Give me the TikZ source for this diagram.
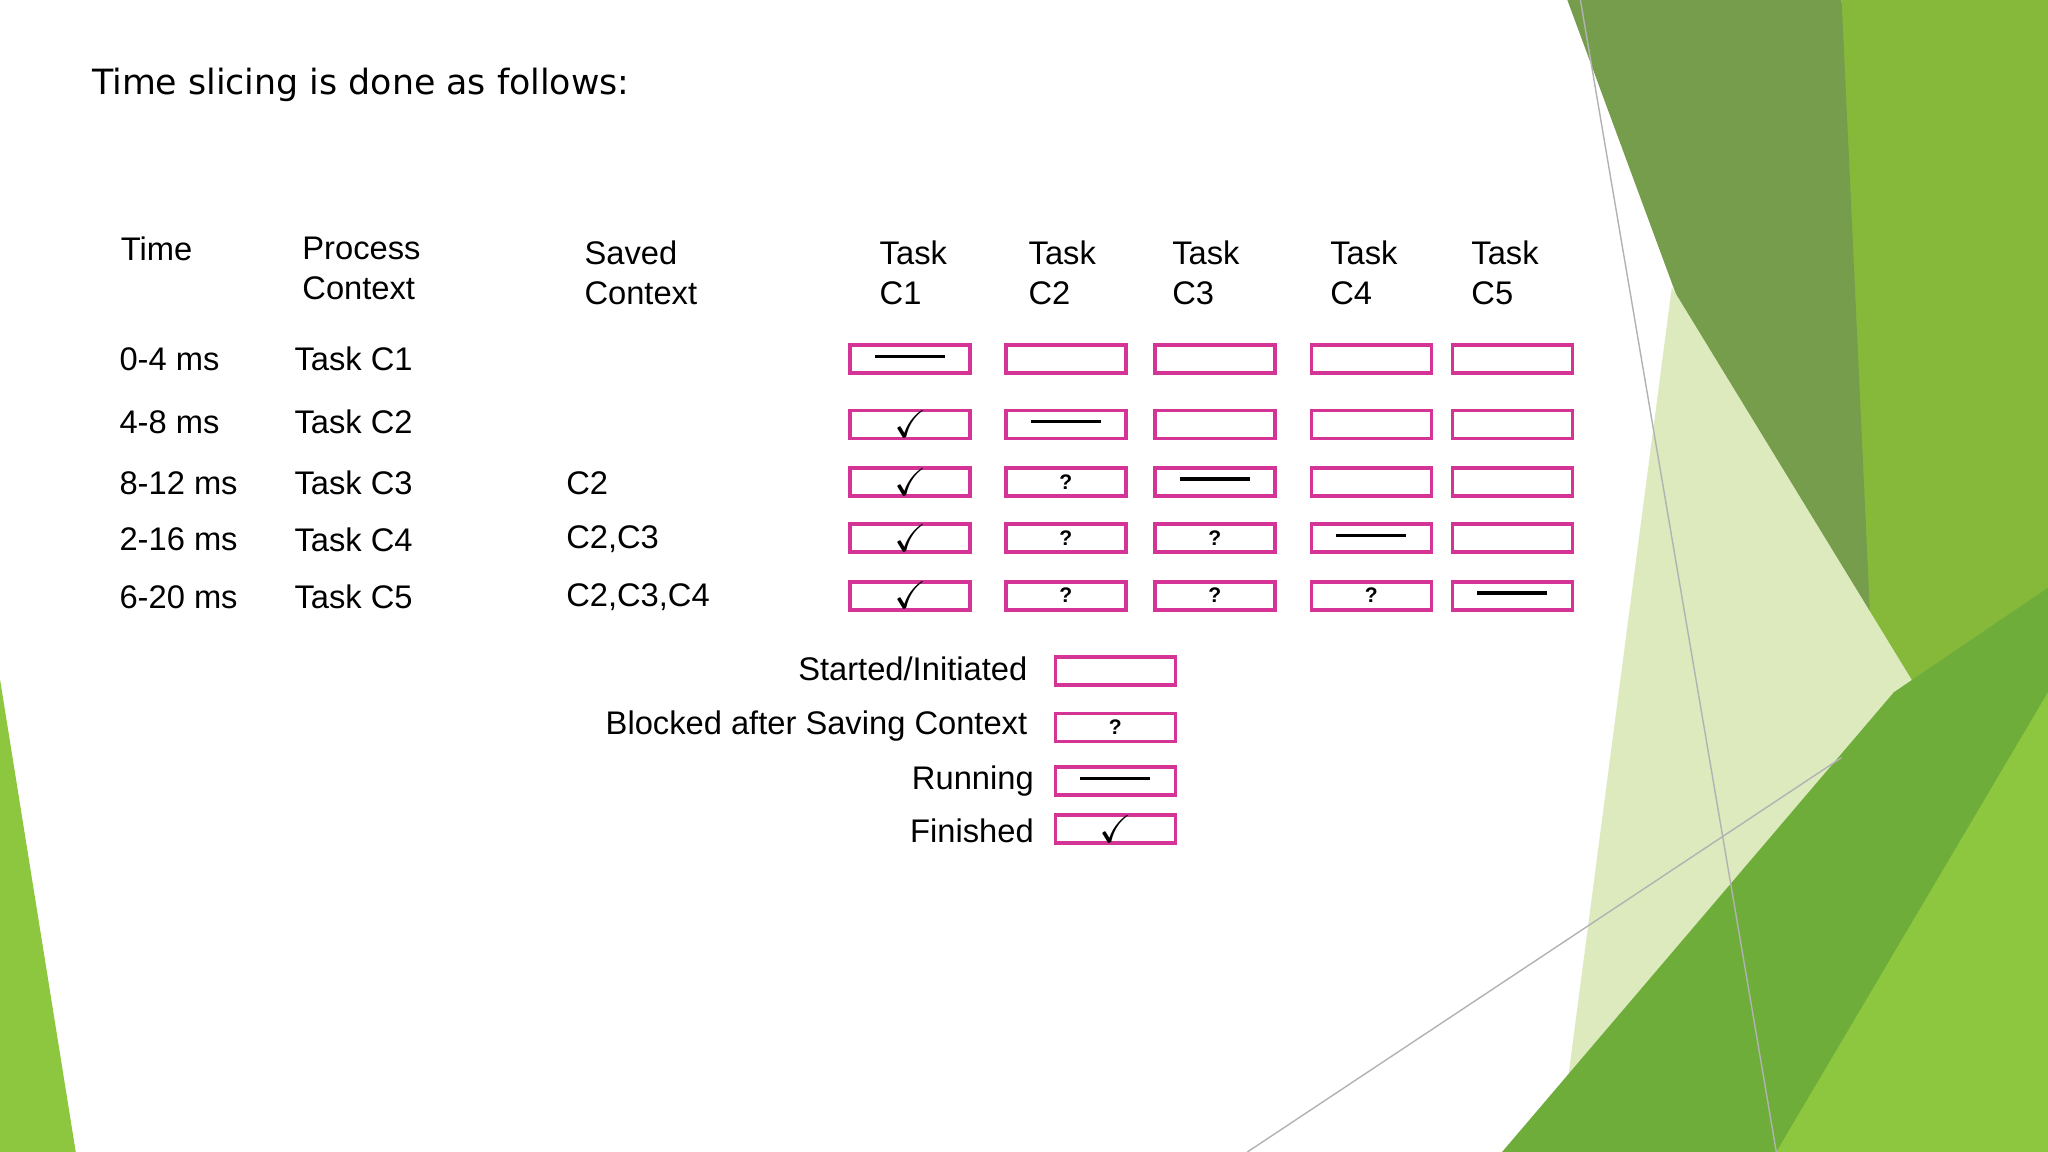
\documentclass[tikz,border=0pt]{standalone}
\usepackage{amssymb}
\usepackage{fontspec}
\setmainfont{Liberation Sans}
\newfontfamily\titlefont{DejaVu Sans}
\definecolor{bxc}{RGB}{212,52,150}
\begin{document}
\begin{tikzpicture}[x=0.01306cm,y=-0.01306cm,
 bx/.style={draw=bxc,line width=1.1pt,minimum width=1.2cm,minimum height=0.28cm,inner sep=0pt},
 tx/.style={anchor=west,font=\fontsize{9.3}{11}\selectfont,inner sep=0pt},
 hd/.style={anchor=north west,font=\fontsize{9.3}{11.3}\selectfont,align=left,inner sep=0pt},
 q/.style={font=\fontsize{6}{7}\selectfont\bfseries}]
\useasboundingbox (0,0) rectangle (1568,882);
% background shapes
\fill[fill={rgb,255:red,134;green,184;blue,58}] (1410,0)--(1568,0)--(1568,882)--(1420,882)--cycle;
\fill[fill={rgb,255:red,117;green,157;blue,76}] (1200,0)--(1410,0)--(1440,650)--cycle;
\fill[fill={rgb,255:red,220;green,234;blue,190}] (1280,220)--(1500,580)--(1430,700)--(1200,830)--cycle;
\fill[fill={rgb,255:red,111;green,173;blue,58}] (1150,882)--(1450,530)--(1568,450)--(1568,882)--cycle;
\fill[fill={rgb,255:red,141;green,198;blue,63}] (1360,882)--(1568,530)--(1568,882)--cycle;
\fill[fill={rgb,255:red,141;green,198;blue,63}] (0,520)--(58,882)--(0,882)--cycle;
\draw[gray!60,line width=0.4pt] (1210,0)--(1360,882);
\draw[gray!60,line width=0.4pt] (955,882)--(1410,580);
% title
\node[anchor=west,inner sep=0pt,font=\titlefont\fontsize{9.9}{12}\selectfont] (title) at (70,65) {Time slicing is done as follows:};
% headers
\node[hd] (h1) at (92,181) {Time};
\node[hd] (h2) at (231,181) {Process\\Context};
\node[hd] (h3) at (447,184) {Saved\\Context};
\foreach \x/\n in {673/1,787/2,897/3,1018/4,1126/5}
  \node[hd] (hc\n) at (\x,184) {Task\\C\n};
% rows
\foreach \y/\t/\p/\s [count=\r] in {275/0-4 ms/Task C1/,323/4-8 ms/Task C2/,370/8-12 ms/Task C3/C2,413/2-16 ms/Task C4/{C2,C3},457/6-20 ms/Task C5/{C2,C3,C4}}{
  \node[tx] (t\r) at (91,\y) {\t};
  \node[tx] (p\r) at (225,\y) {\p};
  \node[tx] (s\r) at (433,\y) {\s};
}
\def\dash{\rule[0.3ex]{0.7cm}{1pt}}
\def\chk{\fontsize{11}{11}\selectfont$\checkmark$}
\foreach \x [count=\c] in {697,816,930,1050,1158}{
 \foreach \y [count=\r] in {275,325,369,412,456}{
  \pgfmathtruncatemacro\d{\r-\c}
  \ifnum\d=0 \node[bx] (b\r\c) at (\x,\y) {\dash};
  \else\ifnum\d<0 \node[bx] (b\r\c) at (\x,\y) {};
  \else\ifnum\c=1 \node[bx] (b\r\c) at (\x,\y) {\chk};
  \else \node[bx,q] (b\r\c) at (\x,\y) {?};
  \fi\fi\fi
 }}
% legend
\node[bx] (l1) at (854,514) {};
\node[bx,q] (l2) at (854,557) {?};
\node[bx] (l3) at (854,598) {\dash};
\node[bx] (l4) at (854,635) {\chk};
\node[tx,anchor=east] (lt1) at (787,512) {Started/Initiated};
\node[tx,anchor=east] (lt2) at (787,556) {Blocked after Saving Context};
\node[tx,anchor=east] (lt3) at (792,598) {Running};
\node[tx,anchor=east] (lt4) at (792,636) {Finished};
\end{tikzpicture}
\end{document}
